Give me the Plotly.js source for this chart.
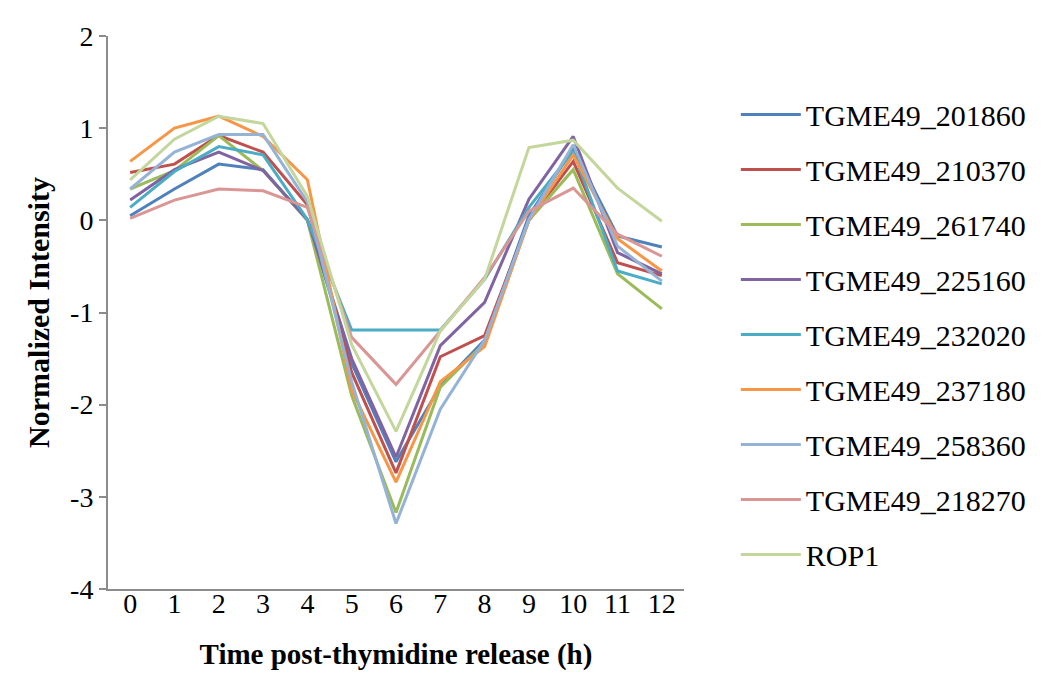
<!DOCTYPE html>
<html>
<head>
<meta charset="utf-8">
<script src="https://cdn.plot.ly/plotly-3.0.1.min.js"></script>
<style>html,body{margin:0;padding:0;background:#fff;}#chart{width:1050px;height:674px;}</style>
</head>
<body>
<div id="chart"></div>
<script>
const hours = [0,1,2,3,4,5,6,7,8,9,10,11,12];
const tickLabels = ["0","1","2","3","4","5","6","7","8","9","10","11","12"];
const seriesNames = ["TGME49_201860","TGME49_210370","TGME49_261740","TGME49_225160","TGME49_232020","TGME49_237180","TGME49_258360","TGME49_218270","ROP1"];
const seriesColors = ["#4F81BD","#C0504D","#9BBB59","#8064A2","#4BACC6","#F79646","#95B3D7","#D99694","#C3D69B"];
const s201860 = [0.05, 0.34, 0.61, 0.55, 0.0, -1.55, -2.62, -1.80, -1.30, 0.05, 0.78, -0.17, -0.29];
const s210370 = [0.52, 0.61, 0.92, 0.74, 0.17, -1.65, -2.74, -1.48, -1.25, 0.0, 0.64, -0.46, -0.60];
const s261740 = [0.34, 0.54, 0.92, 0.54, 0.0, -1.90, -3.17, -1.81, -1.33, 0.0, 0.55, -0.58, -0.96];
const s225160 = [0.22, 0.55, 0.74, 0.54, 0.01, -1.50, -2.57, -1.36, -0.89, 0.23, 0.91, -0.35, -0.58];
const s232020 = [0.14, 0.53, 0.80, 0.71, 0.01, -1.19, -1.19, -1.19, -0.64, 0.14, 0.75, -0.55, -0.69];
const s237180 = [0.64, 1.00, 1.13, 0.91, 0.44, -1.84, -2.84, -1.75, -1.37, 0.0, 0.71, -0.20, -0.55];
const s258360 = [0.34, 0.74, 0.93, 0.93, 0.20, -1.75, -3.29, -2.05, -1.30, 0.01, 0.82, -0.28, -0.66];
const s218270 = [0.02, 0.22, 0.34, 0.32, 0.14, -1.27, -1.78, -1.20, -0.62, 0.10, 0.35, -0.15, -0.39];
const sROP1   = [0.44, 0.88, 1.13, 1.05, 0.26, -1.35, -2.29, -1.20, -0.64, 0.79, 0.87, 0.35, -0.01];
const seriesValues = [s201860, s210370, s261740, s225160, s232020, s237180, s258360, s218270, sROP1];

const traces = seriesNames.map((name, i) => ({
  type: 'scatter', mode: 'lines', name: name,
  x: hours, y: seriesValues[i],
  line: {color: seriesColors[i], width: 3},
  legendgroup: 'g' + i
}));

const serif = 'Liberation Serif, Times New Roman, serif';
const layout = {
  width: 1050, height: 674,
  paper_bgcolor: '#ffffff', plot_bgcolor: '#ffffff',
  margin: {l: 108, r: 366, t: 36, b: 85},
  showlegend: true,
  legend: {
    x: 1.09, xanchor: 'left', y: 0.905, yanchor: 'top',
    font: {family: serif, size: 30, color: '#000'},
    itemwidth: 60, tracegroupgap: 13, bgcolor: 'rgba(0,0,0,0)'
  },
  xaxis: {
    range: [-0.5, 12.5], tickmode: 'array', tickvals: hours, ticktext: tickLabels,
    showgrid: false, zeroline: false, showline: true, linecolor: '#8c8c8c', linewidth: 2,
    ticks: '', ticklabelstandoff: -12, tickfont: {family: serif, size: 28, color: '#000'},
    title: {text: '<b>Time post-thymidine release (h)</b>', font: {family: serif, size: 29, color: '#000'}, standoff: 26}
  },
  yaxis: {
    range: [-4, 2], tickvals: [-4,-3,-2,-1,0,1,2], ticktext: ['-4','-3','-2','-1','0','1','2'],
    showgrid: false, zeroline: false, showline: true, linecolor: '#8c8c8c', linewidth: 2,
    ticks: 'outside', ticklen: 7, tickcolor: '#8c8c8c', tickwidth: 2,
    tickfont: {family: serif, size: 28, color: '#000'},
    title: {text: '<b>Normalized Intensity</b>', font: {family: serif, size: 30, color: '#000'}, standoff: 12}
  }
};
Plotly.newPlot('chart', traces, layout, {displayModeBar: false, staticPlot: true});
</script>
</body>
</html>
